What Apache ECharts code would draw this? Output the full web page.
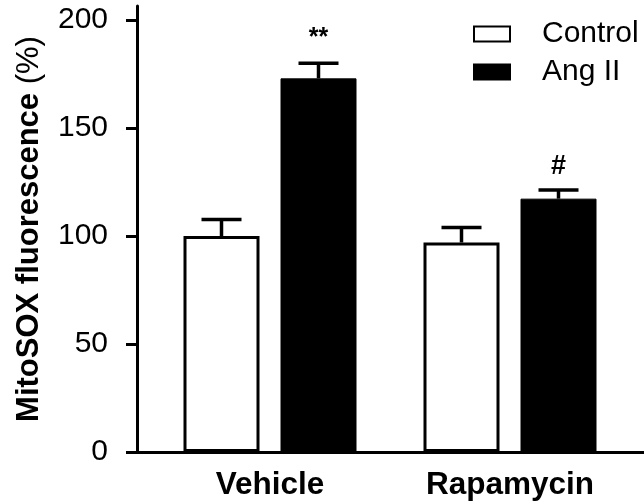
<!DOCTYPE html>
<html>
<head>
<meta charset="utf-8">
<script src="https://cdn.jsdelivr.net/npm/echarts@6/dist/echarts.min.js"></script>
<style>html,body{margin:0;padding:0;background:#fff}#c{width:644px;height:504px}</style>
</head>
<body>
<div id="c"></div>
<script>
const categories = ['Vehicle', 'Rapamycin'];
const seriesNames = ['Control', 'Ang II'];
const controlMean = [100, 97];
const controlSem = [7.7, 7];
const angMean = [173, 117.3];
const angSem = [7, 4];
const controlMarks = ['', ''];
const angMarks = ['**', '#'];
const yTicks = [0, 50, 100, 150, 200];
const yMax = 206.5;

const FONT = '"Liberation Sans", Arial, sans-serif';
const BAR_W = 76, BAR_GAP = 21, CAP_HALF = 20;

function errSeries(name, mean, sem, marks, offset) {
  return {
    type: 'custom', name: name + ' err', xAxisIndex: 1, yAxisIndex: 1, z: 5,
    data: mean.map((m, i) => [i, m, sem[i]]),
    renderItem: function (params, api) {
      const i = api.value(0), m = api.value(1), e = api.value(2);
      const base = api.coord([i, m]);
      const top = api.coord([i, m + e]);
      const cx = base[0] + offset;
      const children = [
        {type: 'line', shape: {x1: cx, y1: base[1], x2: cx, y2: top[1]}, style: {stroke: '#000', lineWidth: 3.5}},
        {type: 'line', shape: {x1: cx - CAP_HALF, y1: top[1], x2: cx + CAP_HALF, y2: top[1]}, style: {stroke: '#000', lineWidth: 3.5}}
      ];
      const mk = marks[params.dataIndex];
      if (mk) {
        const isHash = mk === '#';
        children.push({type: 'text', x: cx, y: top[1] - (isHash ? 23 : 25),
          style: {text: mk, fontSize: isHash ? 27 : 25, fontWeight: 'bold', fontFamily: FONT, fill: '#000', align: 'center', verticalAlign: 'middle'}});
      }
      return {type: 'group', children: children};
    }
  };
}

const chart = echarts.init(document.getElementById('c'));
chart.setOption({
  animation: false,
  backgroundColor: '#fff',
  textStyle: {fontFamily: FONT},
  grid: [
    {left: 137, right: 0, top: 6, bottom: 52},
    {left: 150, width: 480, top: 6, bottom: 52}
  ],
  legend: {
    data: seriesNames, orient: 'vertical', left: 468, top: 14, icon: 'rect',
    itemWidth: 36, itemHeight: 15, itemGap: 8,
    textStyle: {fontSize: 30, color: '#000', fontFamily: FONT, padding: [0, 0, 0, 27]}
  },
  xAxis: [
    {type: 'value', gridIndex: 0, min: 0, max: 1, splitLine: {show: false},
      axisLine: {show: true, onZero: false, lineStyle: {color: '#000', width: 3}},
      axisTick: {show: false}, axisLabel: {show: false}},
    {type: 'category', gridIndex: 1, data: categories,
      axisLine: {show: false}, axisTick: {show: false},
      axisLabel: {fontSize: 31.5, fontWeight: 'bold', color: '#000', margin: 17, fontFamily: FONT}}
  ],
  yAxis: [
    {type: 'value', gridIndex: 0, min: 0, max: yMax,
      splitLine: {show: false},
      axisLine: {show: true, lineStyle: {color: '#000', width: 3}},
      axisTick: {show: true, length: 11, lineStyle: {color: '#000', width: 3}, customValues: yTicks},
      axisLabel: {fontSize: 30, color: '#000', margin: 29, fontFamily: FONT, customValues: yTicks},
      name: '{b|MitoSOX fluorescence }{n|(%)}', nameLocation: 'middle', nameRotate: 90, nameGap: 92,
      nameTextStyle: {rich: {
        b: {fontSize: 31, fontWeight: 'bold', color: '#000', fontFamily: FONT},
        n: {fontSize: 31, fontWeight: 'normal', color: '#000', fontFamily: FONT}
      }}},
    {type: 'value', gridIndex: 1, min: 0, max: yMax, show: false, splitLine: {show: false}}
  ],
  series: [
    {type: 'bar', name: seriesNames[0], xAxisIndex: 1, yAxisIndex: 1, data: controlMean,
      barWidth: BAR_W, barGap: (BAR_GAP / BAR_W * 100) + '%',
      itemStyle: {color: '#fff', borderColor: '#000', borderWidth: 3}},
    {type: 'bar', name: seriesNames[1], xAxisIndex: 1, yAxisIndex: 1, data: angMean,
      barWidth: BAR_W, barGap: (BAR_GAP / BAR_W * 100) + '%',
      itemStyle: {color: '#000', borderColor: '#000', borderWidth: 1}},
    errSeries(seriesNames[0], controlMean, controlSem, controlMarks, -(BAR_W + BAR_GAP) / 2),
    errSeries(seriesNames[1], angMean, angSem, angMarks, (BAR_W + BAR_GAP) / 2)
  ]
});
</script>
</body>
</html>
